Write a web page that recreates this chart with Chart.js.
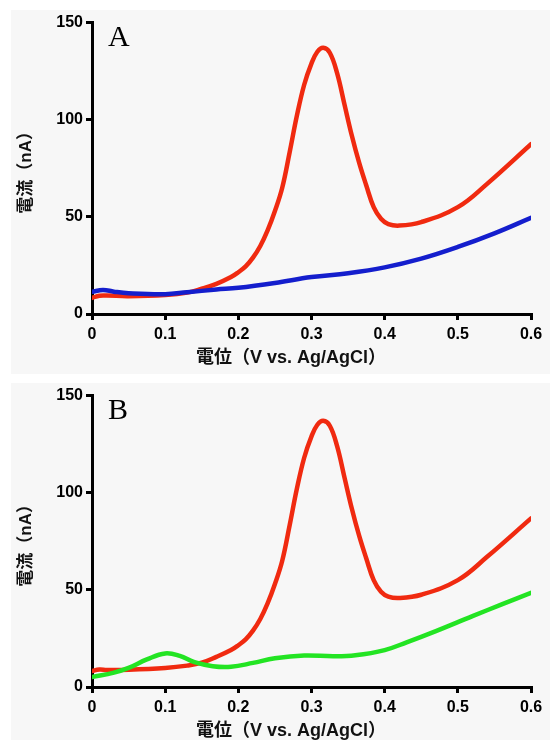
<!DOCTYPE html>
<html>
<head>
<meta charset="utf-8">
<script src="https://cdn.jsdelivr.net/npm/chart.js@4"></script>
<style>
    html, body { margin: 0; padding: 0; background: #fff; overflow: hidden; }
    body { width: 550px; height: 740px; position: relative; }
    .panel { position: absolute; left: 11px; width: 539px; height: 364px; background: #f7f7f7; overflow: hidden; }
    .panel canvas { position: absolute; left: 0; top: 0; }
    #panelA { top: 10px; }
    #panelB { top: 383px; }
</style>
</head>
<body>
<div class="panel" id="panelA"><canvas id="chartA" width="560" height="364"></canvas></div>
<div class="panel" id="panelB"><canvas id="chartB" width="560" height="364"></canvas></div>
<script>
const xTicks = [0, 0.1, 0.2, 0.3, 0.4, 0.5, 0.6];
const yTicks = [0, 50, 100, 150];
const xTitle = '電位（V vs. Ag/AgCl）';
const yTitle = '電流（nA）';

// panel A, red curve
const redAx = [0, 0.01, 0.02, 0.05, 0.1, 0.13, 0.15, 0.17, 0.19, 0.2, 0.21, 0.22, 0.23, 0.24, 0.25, 0.26, 0.27, 0.28, 0.29, 0.3, 0.308, 0.316, 0.325, 0.335, 0.345, 0.355, 0.365, 0.375, 0.385, 0.395, 0.405, 0.42, 0.45, 0.5, 0.54, 0.6];
const redAy = [8.3, 9.4, 9.5, 9.2, 9.8, 11, 13, 15.5, 19, 21.5, 24.5, 29, 35, 43, 53, 65, 83, 102, 118, 129, 135, 137, 134.5, 124, 108, 92, 78, 66, 55, 49, 46.3, 45.5, 47.3, 55, 67, 87.4];
// panel A, blue curve
const blueAx = [0, 0.015, 0.03, 0.05, 0.1, 0.13, 0.17, 0.2, 0.25, 0.3, 0.35, 0.4, 0.45, 0.5, 0.55, 0.6];
const blueAy = [11.4, 12.4, 11.5, 10.7, 10.2, 11.2, 12.6, 13.5, 16, 19, 21, 24, 28.5, 34.5, 41.5, 49.5];

// panel B, red curve
const redBx = [0, 0.01, 0.02, 0.05, 0.1, 0.13, 0.15, 0.17, 0.19, 0.2, 0.21, 0.22, 0.23, 0.24, 0.25, 0.26, 0.27, 0.28, 0.29, 0.3, 0.308, 0.316, 0.325, 0.335, 0.345, 0.355, 0.365, 0.375, 0.385, 0.395, 0.405, 0.42, 0.45, 0.5, 0.54, 0.6];
const redBy = [8.2, 9.0, 8.8, 8.9, 9.8, 11, 12.5, 15.5, 19, 21.5, 24.5, 29, 35, 43, 53, 65, 83, 102, 118, 129, 135, 137, 134.5, 124, 108, 92, 78, 66, 55, 49, 46.5, 45.8, 47.5, 55, 67, 86.8];
// panel B, green curve
const greenBx = [0, 0.03, 0.05, 0.075, 0.1, 0.12, 0.14, 0.165, 0.19, 0.22, 0.25, 0.29, 0.33, 0.36, 0.4, 0.43, 0.47, 0.52, 0.56, 0.6];
const greenBy = [5.1, 7.4, 9.8, 14.2, 17.3, 16, 12.8, 10.7, 10.4, 12.4, 14.8, 16.2, 15.8, 16.3, 19, 23, 28.8, 36.5, 42.5, 48.5];

const RED = 'rgb(240, 42, 16)';
const BLUE = 'rgb(20, 30, 205)';
const GREEN = 'rgb(35, 228, 35)';
const FONT = '"Liberation Sans", Arial, "Noto Sans CJK JP", sans-serif';

const toPoints = (xs, ys) => xs.map((x, i) => ({ x, y: ys[i] }));

const makeSet = (xs, ys, color) => ({
    data: toPoints(xs, ys),
    borderColor: color,
    borderWidth: 4.5,
    pointRadius: 0,
    fill: false,
    tension: 0.4,
    borderCapStyle: 'round',
    borderJoinStyle: 'round'
});

// panel letter and the x title (the title sits a bit left of the axis centre)
const panelText = {
    id: 'panelText',
    afterDraw(chart, args, opts) {
        const { ctx, chartArea } = chart;
        ctx.save();
        ctx.fillStyle = '#000';
        ctx.textBaseline = 'alphabetic';
        ctx.font = '30px "Liberation Serif", "Times New Roman", serif';
        ctx.fillText(opts.letter, chartArea.left + 16, chartArea.top + 23);

        ctx.fillStyle = '#111';
        ctx.font = 'bold 18px ' + FONT;
        ctx.textAlign = 'center';
        ctx.textBaseline = 'middle';
        ctx.fillText(xTitle, chartArea.left + 199, chartArea.bottom + 44);
        ctx.restore();
    }
};

const makeChart = (id, letter, datasets) => new Chart(document.getElementById(id).getContext('2d'), {
    type: 'line',
    data: { datasets },
    plugins: [panelText],
    options: {
        responsive: false,
        animation: false,
        events: [],
        layout: { padding: { left: 0, right: 40, top: 11, bottom: 0 } },
        plugins: {
            legend: { display: false },
            tooltip: { enabled: false },
            panelText: { letter }
        },
        scales: {
            x: {
                type: 'linear',
                min: xTicks[0],
                max: xTicks[xTicks.length - 1],
                afterBuildTicks: (scale) => { scale.ticks = xTicks.map(v => ({ value: v })); },
                afterFit: (scale) => { scale.height = 60; },
                border: { color: '#000', width: 3 },
                grid: { drawOnChartArea: false, drawTicks: true, tickLength: 6, color: '#000', lineWidth: 3 },
                ticks: {
                    color: '#000',
                    padding: 5,
                    maxRotation: 0,
                    font: { family: FONT, size: 16, weight: 'bold' },
                    callback: (v) => String(+v.toFixed(1))
                }
            },
            y: {
                min: yTicks[0],
                max: yTicks[yTicks.length - 1],
                afterBuildTicks: (scale) => { scale.ticks = yTicks.map(v => ({ value: v })); },
                afterFit: (scale) => { scale.width = 81; },
                border: { color: '#000', width: 3 },
                grid: { drawOnChartArea: false, drawTicks: true, tickLength: 6, color: '#000', lineWidth: 3 },
                ticks: {
                    color: '#000',
                    padding: 3,
                    font: { family: FONT, size: 16, weight: 'bold' }
                },
                title: {
                    display: true,
                    text: yTitle,
                    color: '#111',
                    padding: { top: 5, bottom: 0 },
                    font: { family: FONT, size: 17, weight: 'bold' }
                }
            }
        }
    }
});

makeChart('chartA', 'A', [
    makeSet(blueAx, blueAy, BLUE),
    makeSet(redAx, redAy, RED)
]);

makeChart('chartB', 'B', [
    makeSet(greenBx, greenBy, GREEN),
    makeSet(redBx, redBy, RED)
]);
</script>
</body>
</html>
